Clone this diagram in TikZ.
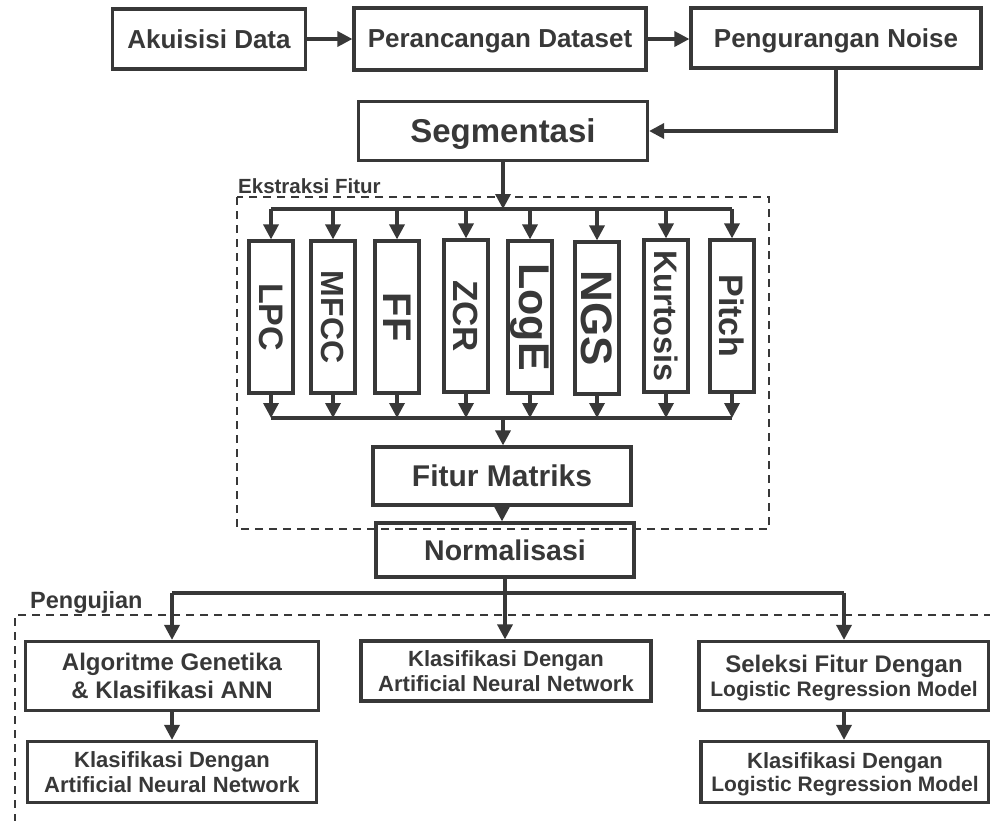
\documentclass[tikz,border=0pt]{standalone}
\usepackage{fontspec}
\setmainfont{Liberation Sans}
\usetikzlibrary{arrows.meta}
\definecolor{ink}{HTML}{383838}
\newcommand{\fs}[1]{\fontsize{#1}{#1}\selectfont}
\tikzset{
  box/.style={draw=ink, line width=3.2pt, inner sep=0pt, text=ink, font=\bfseries, align=center, text depth=0pt},
  vbox/.style={box, minimum width=44pt, minimum height=152pt},
  vtext/.style={rotate=-90, text=ink, font=\bfseries, inner sep=0pt},
  conn/.style={draw=ink, line width=3.4pt},
  arr/.style={conn, -{Triangle[length=15pt,width=15pt]}},
  dashedline/.style={draw=ink, line width=2.5pt, dash pattern=on 8pt off 6pt},
  lbl/.style={text=ink, font=\bfseries, inner sep=0pt, anchor=base west}
}
\begin{document}
\begin{tikzpicture}[x=1pt,y=-1pt]
\useasboundingbox (0,0) rectangle (990,820);
% top row
\node[box, minimum width=193pt, minimum height=60pt] (akuisisi) at (209,39) {\fs{26}Akuisisi Data};
\node[box, minimum width=292pt, minimum height=62pt] (perancangan) at (500,39) {\fs{26}Perancangan Dataset};
\node[box, minimum width=290pt, minimum height=60pt] (noise) at (836,38) {\fs{26}Pengurangan Noise};
\node[box, minimum width=289pt, minimum height=59pt] (segmentasi) at (503,131) {\fs{33}Segmentasi};
\draw[arr] (akuisisi.east) -- (perancangan.west);
\draw[arr] (perancangan.east) -- (perancangan.east -| noise.west);
\draw[arr] (noise.south) |- (segmentasi.east);
% feature extraction
\draw[dashedline] (237,197) rectangle (769,529);
\node[lbl] (ekstraksi) at (238,193) {\fs{20.5}Ekstraksi Fitur};
\node[vbox] (lpc) at (271,317) {};
\node[vtext] at (lpc.center) {\fs{34}LPC};
\node[vbox] (mfcc) at (333,317) {};
\node[vtext] at (mfcc.center) {\fs{32}MFCC};
\node[vbox] (ff) at (397,317) {};
\node[vtext] at (ff.center) {\fs{40}FF};
\node[vbox] (zcr) at (466,316) {};
\node[vtext] at (zcr.center) {\fs{35}ZCR};
\node[vbox] (loge) at (530,317) {};
\node[vtext] at (loge.center) {\fs{43}LogE};
\node[vbox] (ngs) at (597,318) {};
\node[vtext] at (ngs.center) {\fs{44}NGS};
\node[vbox] (kurtosis) at (666,316) {};
\node[vtext] at (kurtosis.center) {\fs{32.5}Kurtosis};
\node[vbox] (pitch) at (732,316) {};
\node[vtext] at (pitch.center) {\fs{34}Pitch};
\coordinate (busT) at (503,209);
\coordinate (busB) at (503,418);
\draw[arr] (segmentasi.south) -- (busT);
\draw[conn] (lpc.north |- busT) -- (pitch.north |- busT);
\foreach \n in {lpc,mfcc,ff,zcr,loge,ngs,kurtosis,pitch}{
  \draw[arr] (\n.north |- busT) -- (\n.north);
  \draw[arr] (\n.south) -- (\n.south |- busB);
}
\draw[conn] (lpc.south |- busB) -- (pitch.south |- busB);
\node[box, minimum width=258pt, minimum height=58pt] (fitur) at (502,476) {\fs{30}Fitur Matriks};
\draw[arr] (busB) -- (busB |- fitur.north);
\node[box, minimum width=258pt, minimum height=54pt] (norm) at (505,550) {\fs{28.5}Normalisasi};
\draw[arr] (fitur.south) -- (fitur.south |- norm.north);
% testing
\draw[dashedline] (992,615) -- (15,615) -- (15,822);
\node[lbl] (pengujian) at (30,608) {\fs{23.5}Pengujian};
\node[box, minimum width=293pt, minimum height=69pt] (alg) at (172,676) {\fs{24}Algoritme Genetika\\[4pt]\fs{24}\& Klasifikasi ANN};
\node[box, minimum width=290pt, minimum height=60pt] (mid) at (506,671) {\fs{22}Klasifikasi Dengan\\[3pt]\fs{22}Artificial Neural Network};
\node[box, minimum width=290pt, minimum height=69pt] (sel) at (844,676) {\fs{24}Seleksi Fitur Dengan\\[3pt]\fs{21}Logistic Regression Model};
\node[box, minimum width=289pt, minimum height=61pt] (klas1) at (172,772) {\fs{22}Klasifikasi Dengan\\[3pt]\fs{22}Artificial Neural Network};
\node[box, minimum width=288pt, minimum height=61pt] (klas2) at (845,772) {\fs{22}Klasifikasi Dengan\\[3pt]\fs{21}Logistic Regression Model};
\coordinate (busP) at (505,593);
\draw[conn] (norm.south) -- (busP);
\draw[conn] (busP -| alg.north) -- (busP -| sel.north);
\draw[arr] (alg.north |- busP) -- (alg.north);
\draw[arr] (busP) -- (busP |- mid.north);
\draw[arr] (sel.north |- busP) -- (sel.north);
\draw[arr] (alg.south) -- (klas1.north);
\draw[arr] (sel.south) -- (sel.south |- klas2.north);
\end{tikzpicture}
\end{document}
